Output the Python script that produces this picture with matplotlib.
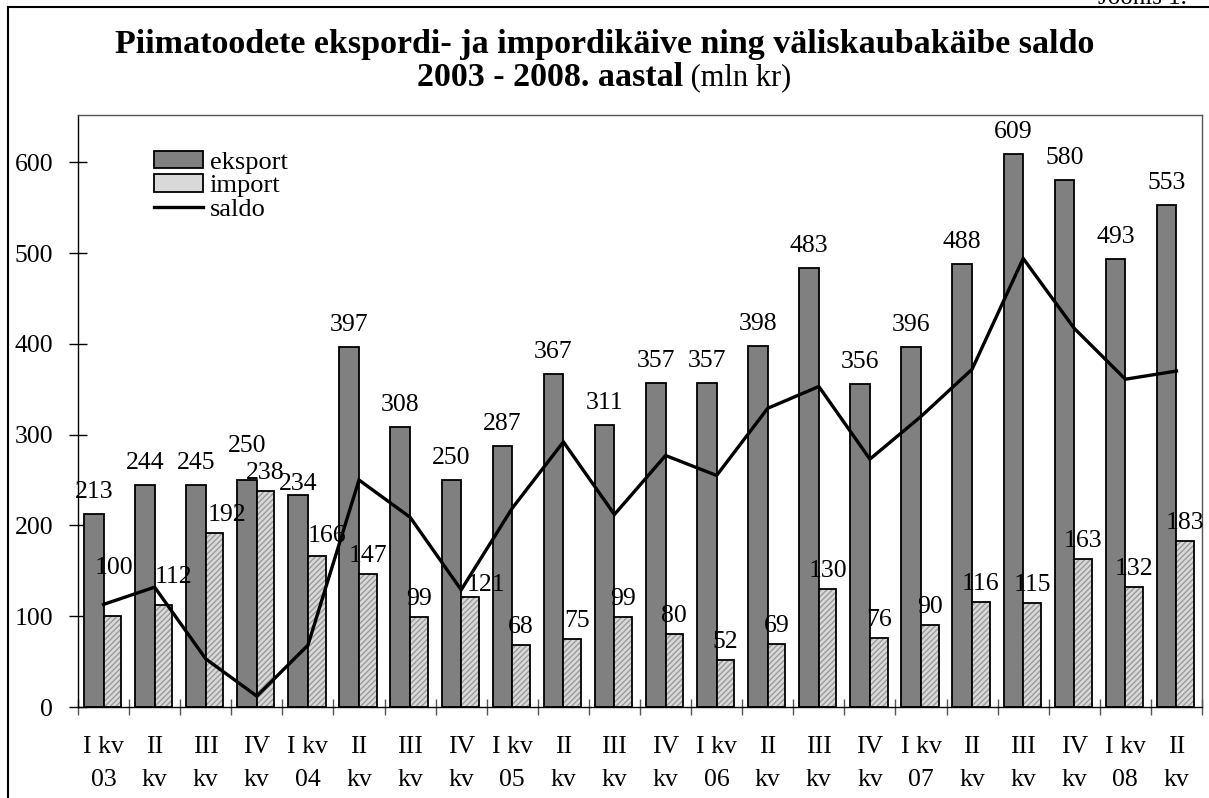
import numpy as np
import matplotlib
matplotlib.use("Agg")
import matplotlib.pyplot as plt
from matplotlib.patches import Patch
from matplotlib.lines import Line2D

# ---------------- data ----------------
categories = ["I kv\n03", "II\nkv", "III\nkv", "IV\nkv",
              "I kv\n04", "II\nkv", "III\nkv", "IV\nkv",
              "I kv\n05", "II\nkv", "III\nkv", "IV\nkv",
              "I kv\n06", "II\nkv", "III\nkv", "IV\nkv",
              "I kv\n07", "II\nkv", "III\nkv", "IV\nkv",
              "I kv\n08", "II\nkv"]
eksport = [213, 244, 245, 250, 234, 397, 308, 250, 287, 367, 311, 357,
           357, 398, 483, 356, 396, 488, 609, 580, 493, 553]
impordi = [100, 112, 192, 238, 166, 147, 99, 121, 68, 75, 99, 80,
           52, 69, 130, 76, 90, 116, 115, 163, 132, 183]
saldo = [113, 132, 53, 12, 68, 250, 209, 129, 219, 292, 212, 277,
         255, 329, 353, 273, 320, 372, 494, 417, 361, 370]
y_ticks = [0, 100, 200, 300, 400, 500, 600]
series_names = ["eksport", "import", "saldo"]
title_line1 = "Piimatoodete ekspordi- ja impordikäive ning väliskaubakäibe saldo"
title_line2_bold = "2003 - 2008. aastal"
title_line2_reg = " (mln kr)"
corner_text = "Joonis 1."

# label nudges (pixels: dx, dy) for a few manually placed labels
exp_nudge = {3: (0, 12), 4: (0, -11)}
imp_nudge = {0: (2, 30), 1: (10, 10), 2: (12, 0), 4: (10, 2), 7: (16, -6), 9: (5, 0)}

SERIF = "Liberation Serif"
W, H = 1209, 798
fig = plt.figure(figsize=(W / 100, H / 100), dpi=100)
fig.patch.set_facecolor("white")

ax = fig.add_axes([78 / W, 1 - 707 / H, (1202 - 78) / W, (707 - 115) / H])

n = len(categories)
x = np.arange(n)
bw = 0.385

EXP_COLOR = "#808080"
IMP_FACE = "#d9d9d9"
IMP_HATCH = "#9a9a9a"

ax.bar(x - bw / 2, eksport, width=bw, color=EXP_COLOR, edgecolor="black",
       linewidth=1.3, zorder=2)
ax.bar(x + bw / 2 - 0.02, impordi, width=bw - 0.04, color=IMP_FACE, edgecolor=IMP_HATCH,
       hatch="//////", linewidth=0, zorder=2)
ax.bar(x + bw / 2 - 0.02, impordi, width=bw - 0.04, fill=False, edgecolor="black",
       linewidth=1.3, zorder=3)
ax.plot(x, saldo, color="black", linewidth=2.4, zorder=4, solid_joinstyle="miter")

FS = 18.5
for i in range(n):
    dx, dy = exp_nudge.get(i, (0, 0))
    ax.annotate(str(eksport[i]), (x[i] - bw / 2, eksport[i]),
                xytext=(dx * 0.72, (11 + dy) * 0.72), textcoords="offset points",
                ha="center", va="bottom", fontsize=FS, family=SERIF, zorder=5)
    dx, dy = imp_nudge.get(i, (0, 0))
    ax.annotate(str(impordi[i]), (x[i] + bw / 2 - 0.02, impordi[i]),
                xytext=(dx * 0.72, (7 + dy) * 0.72), textcoords="offset points",
                ha="center", va="bottom", fontsize=FS, family=SERIF, zorder=5)

ax.set_xlim(-0.5, n - 0.5)
ax.set_ylim(0, 652)
ax.set_yticks(y_ticks)
ax.set_yticklabels([str(v) for v in y_ticks], family=SERIF, fontsize=FS)
ax.tick_params(axis="y", direction="inout", length=13.5, width=1, pad=11)

ax.set_xticks(x)
ax.set_xticklabels(categories, family=SERIF, fontsize=FS, linespacing=1.65)
ax.tick_params(axis="x", which="major", length=0, pad=21)
ax.set_xticks(np.arange(-0.5, n, 1.0), minor=True)
ax.tick_params(axis="x", which="minor", direction="inout", length=11.5, width=1,
               color="#555555")

for s in ax.spines.values():
    s.set_linewidth(1.0)
    s.set_color("black")
ax.spines["top"].set_color("#555555")
ax.spines["right"].set_color("#555555")

# legend
handles = [Patch(facecolor=EXP_COLOR, edgecolor="black", linewidth=1.3),
           Patch(facecolor=IMP_FACE, edgecolor="black", linewidth=1.3),
           Line2D([0], [0], color="black", linewidth=2.4)]
leg = ax.legend(handles, series_names, loc="upper left",
                bbox_to_anchor=(0.068, 0.94), frameon=False,
                prop={"family": SERIF, "size": 19}, handlelength=1.85,
                handleheight=0.65, handletextpad=0.25, labelspacing=0.02,
                borderpad=0, borderaxespad=0)

# outer frame
fig.add_artist(Line2D([8 / W, 8 / W], [0, 1 - 7 / H], transform=fig.transFigure,
                      color="black", linewidth=1.5))
fig.add_artist(Line2D([8 / W, 1], [1 - 7 / H, 1 - 7 / H], transform=fig.transFigure,
                      color="black", linewidth=1.5))

# titles
fig.text(0.5, 1 - 44 / H, title_line1, ha="center", va="center", fontsize=24.5,
         weight="bold", family=SERIF)
renderer = fig.canvas.get_renderer()
t1 = fig.text(0, 1 - 78 / H, title_line2_bold, ha="left", va="center", fontsize=24.5,
              weight="bold", family=SERIF)
t2 = fig.text(0, 1 - 78 / H, title_line2_reg, ha="left", va="center", fontsize=22,
              family=SERIF)
w1 = t1.get_window_extent(renderer).width
w2 = t2.get_window_extent(renderer).width
start = (W - (w1 + w2)) / 2
t1.set_x(start / W)
t2.set_x((start + w1) / W)

fig.text(1098 / W, 1 - 4 / H, corner_text, ha="left", va="baseline", fontsize=18,
         family=SERIF)

fig.savefig("out.png", dpi=100)
